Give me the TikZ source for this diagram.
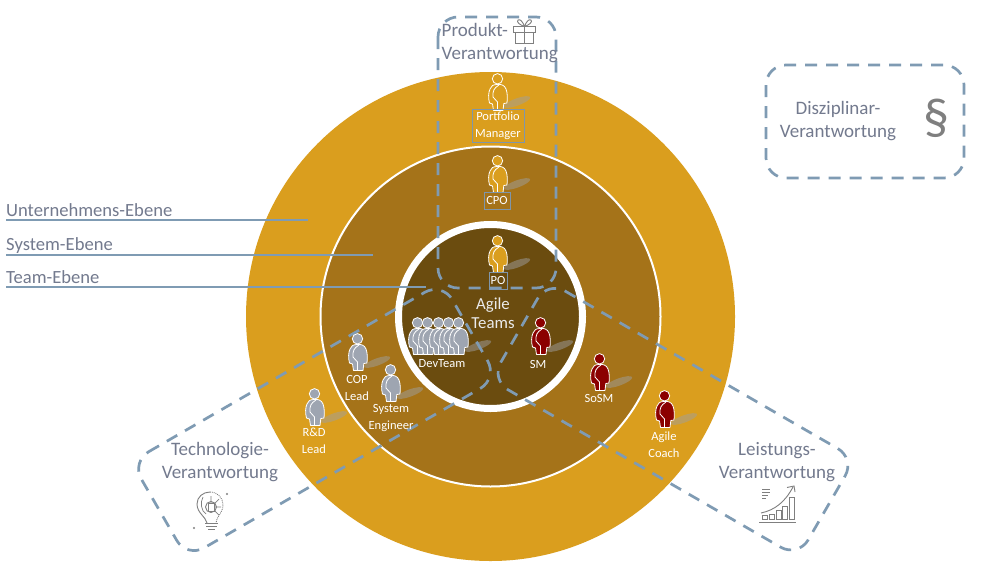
\documentclass[tikz,border=0pt]{standalone}
\usepackage{fontspec}
\setmainfont{Carlito}
\definecolor{outerc}{RGB}{218,158,30}
\definecolor{midc}{RGB}{165,115,25}
\definecolor{innerc}{RGB}{107,76,15}
\definecolor{dashc}{RGB}{127,155,179}
\definecolor{titlec}{RGB}{115,122,142}
\definecolor{iconc}{RGB}{127,127,127}
\definecolor{grayp}{RGB}{158,165,177}
\definecolor{redp}{RGB}{139,0,0}
\definecolor{boxc}{RGB}{127,150,170}
\tikzset{
  dashbox/.style={draw=dashc,line width=2.7pt,dash pattern=on 12pt off 9pt,rounded corners=20pt},
  levelline/.style={draw=dashc,line width=2pt},
  leveltext/.style={text=titlec,anchor=base west,inner sep=0pt,font=\fontsize{18.6}{20}\selectfont},
  titletext/.style={text=titlec,inner sep=0pt,align=center,font=\fontsize{19}{23}\selectfont},
  rolelabel/.style={text=white,inner sep=0pt,align=center,font=\fontsize{12.5}{17}\selectfont},
  rolebox/.style={rolelabel,draw=boxc,line width=.7pt},
  iconline/.style={draw=iconc,line width=.9pt},
  shadowp/.style={fill=gray!75,opacity=.5}
}
\newcommand{\persona}[3]{%
  \begin{scope}[shift={(#1,#2)},draw=white,line width=.8pt,fill=#3,line join=round]
    \filldraw (-0.5,5.8) circle[radius=5.2];
    \filldraw (-1,11.5) .. controls (3,11) and (6.5,12) .. (8,16)
      .. controls (9.5,20) and (9.5,25) .. (9,30) -- (5.8,30.5) -- (5,37.5)
      -- (-4.5,37.5) -- (-5.5,31) -- (-8.5,30) .. controls (-10,25) and (-9.5,19) .. (-8,16)
      .. controls (-7,13) and (-5,11.5) .. cycle;
    \draw (1,12) .. controls (-4,15) and (-5.5,18) .. (-5,24) -- (-0.5,29) -- (-0.5,37);
  \end{scope}}
\newcommand{\schatten}[2]{\fill[shadowp,shift={(#1+19,#2+29)},rotate=20] (0,0) ellipse[x radius=14,y radius=3.6];}
\begin{document}
\begin{tikzpicture}[x=1pt,y=-1pt]
\useasboundingbox (0,0) rectangle (982,581);
\fill[white] (0,0) rectangle (982,581);
% rings
\fill[outerc] (490.5,316.5) circle[radius=244.5];
\filldraw[fill=midc,draw=white,line width=2pt] (490.5,316.5) circle[radius=170];
\filldraw[fill=innerc,draw=white,line width=7pt] (490.5,316.5) circle[radius=92];
% level lines
\node[leveltext] (lu) at (6,216) {Unternehmens-Ebene};
\node[leveltext] (ls) at (6,250) {System-Ebene};
\node[leveltext] (lt) at (6,283) {Team-Ebene};
\draw[levelline] (6,219.5) -- (308,219.5);
\draw[levelline] (6,254.5) -- (373,254.5);
\draw[levelline] (6,287) -- (426,287);
% shadows
\schatten{498}{73}\schatten{498}{155}\schatten{498}{235}\schatten{459}{317}\schatten{541}{317}
\schatten{600}{353}\schatten{665}{390}\schatten{315}{388}\schatten{358}{333}\schatten{391}{364}
% responsibility boxes
\draw[dashbox] (438,17) rectangle (556,288);
\draw[dashbox] (766,65) rectangle (964,178);
\begin{scope}[shift={(490,317)},x={(0.866pt,0.5pt)},y={(0.5pt,-0.866pt)}]
  \draw[dashbox] (-383,-54) -- (-24,-54) -- (-24,57) -- (-383,57) -- cycle;
\end{scope}
\begin{scope}[shift={(490,317)},x={(0.866pt,-0.5pt)},y={(-0.5pt,-0.866pt)}]
  \draw[dashbox] (32,-60) -- (387,-60) -- (387,54) -- (32,54) -- cycle;
\end{scope}
% people
\persona{498}{73}{outerc}
\persona{498}{155}{outerc}
\persona{498}{235}{outerc}
\persona{418}{317}{grayp}\persona{428}{317}{grayp}\persona{439}{317}{grayp}\persona{449}{317}{grayp}\persona{459}{317}{grayp}
\persona{541}{317}{redp}
\persona{600}{353}{redp}
\persona{665}{390}{redp}
\persona{315}{388}{grayp}
\persona{358}{333}{grayp}
\persona{391}{364}{grayp}
% role labels
\node[rolebox,minimum width=52pt,minimum height=33pt] (pm) at (498,125.5) {Portfolio\\Manager};
\node[rolebox,minimum width=26pt,minimum height=17pt] (cpo) at (497,200.5) {CPO};
\node[rolebox,minimum width=18pt,minimum height=17pt] (po) at (498,280.5) {PO};
\node[rolelabel] (dev) at (442,364) {DevTeam};
\node[rolelabel] (sm) at (538,364) {SM};
\node[rolelabel] (sosm) at (599,398) {SoSM};
\node[rolelabel] (coach) at (664,444.5) {Agile\\Coach};
\node[rolelabel] (rd) at (314,440.5) {R\&D\\Lead};
\node[rolelabel] (cop) at (357,387.5) {COP\\Lead};
\node[rolelabel] (se) at (391,418.5) {System\\Engineer};
\node[text=white!92!black,inner sep=0pt,align=center,font=\fontsize{16.8}{19}\selectfont] (agile) at (493,313.5) {Agile\\Teams};
% titles
\node[titletext,anchor=north west,align=left] (prod) at (441.5,23) {Produkt-\\Verantwortung};
\node[titletext] (disz) at (838,121.5) {Disziplinar-\\Verantwortung};
\node[titletext] (tech) at (220,462) {Technologie-\\Verantwortung};
\node[titletext] (leis) at (777,462) {Leistungs-\\Verantwortung};
% paragraph sign
\node[text=iconc,inner sep=0pt,font=\fontsize{52}{52}\selectfont] (par) at (936,118) {§};
% gift icon
\draw[iconline] (513.5,26.5) rectangle (535.5,32.5);
\draw[iconline] (515.5,32.5) rectangle (533.5,43);
\draw[iconline] (524.5,26.5) -- (524.5,43);
\draw[iconline] (524.5,26.5) .. controls (520,25) and (516,22) .. (518,20) .. controls (520,18.5) and (523,22) .. (524.5,26.5)
   .. controls (526,22) and (529,18.5) .. (531,20) .. controls (533,22) and (529,25) .. (524.5,26.5);
% bulb icon
\draw[iconline] (207,523) .. controls (206,517) and (197,513) .. (197,504) .. controls (197,497) and (203,492) .. (210,492);
\draw[iconline,densely dotted] (210,492) .. controls (218,492) and (223,498) .. (223,505) .. controls (223,513) and (216,517) .. (216,523);
\draw[iconline] (205,523.5) -- (218,523.5) (206,526.5) -- (217,526.5) (208,529.5) -- (215,529.5);
\draw[iconline] (211,507) circle[radius=5.5];
\draw[iconline,fill=white] (208,503) rectangle (214,511);
\draw[iconline,line width=.7pt] (214,504) -- (219,499) (214,507) -- (221,507) (214,510) -- (219,515) (211,503) -- (211,496);
\draw[iconline,line width=.7pt] (203,497) .. controls (200,502) and (201,511) .. (206,514);
\fill[iconc] (227,494) circle[radius=1.2] (194,528) circle[radius=1.2];
% chart icon
\draw[iconline] (759,522) -- (796,522);
\draw[iconline] (762,519) rectangle (767,515);
\draw[iconline] (769,519) rectangle (774,514);
\draw[iconline] (776,519) rectangle (781,510);
\draw[iconline] (782.5,519) rectangle (787.5,506);
\draw[iconline] (789.5,519) rectangle (794,497.5);
\draw[iconline] (761,513) .. controls (775,510) and (785,502) .. (793,487);
\draw[iconline] (787,487.5) -- (794,486) -- (795,492);
\draw[iconline,line width=.8pt] (762,489) -- (770,489) (762,492) -- (770,492) (762,495) -- (768,495) (762,498) -- (766,498);
\end{tikzpicture}
\end{document}
